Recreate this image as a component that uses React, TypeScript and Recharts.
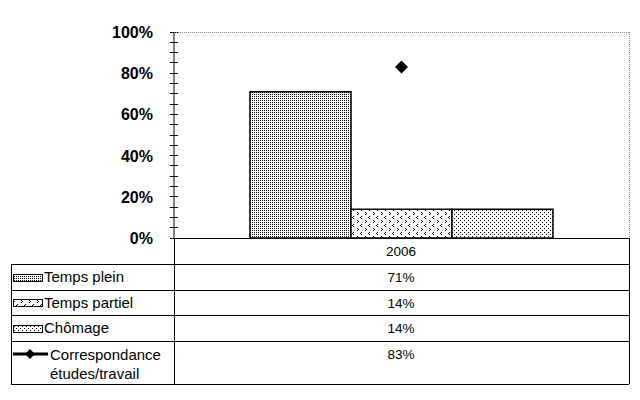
import React from 'react';
import { ComposedChart, Bar, Line, XAxis, YAxis } from 'recharts';

const years = ['2006'];
const tempsPlein = [71];
const tempsPartiel = [14];
const chomage = [14];
const correspondance = [83];
const yTicks = [0, 5, 10, 15, 20, 25, 30, 35, 40, 45, 50, 55, 60, 65, 70, 75, 80, 85, 90, 95, 100];
const majorTicks = [0, 20, 40, 60, 80, 100];
const seriesNames = ['Temps plein', 'Temps partiel', 'Chômage', 'Correspondance études/travail'];
const seriesValues = [tempsPlein, tempsPartiel, chomage, correspondance];

const data = years.map((year, i) => ({
    year,
    plein: tempsPlein[i],
    partiel: tempsPartiel[i],
    chomage: chomage[i],
    corr: correspondance[i],
}));

const FONT = '"Liberation Sans", Arial, sans-serif';

const YTick = (props: any) => {
    const { x, y, payload } = props;
    const major = majorTicks.includes(payload.value);
    return (
        <g>
            <line x1={x - 4} x2={x + 4} y1={y} y2={y} stroke="#000" strokeWidth={1} shapeRendering="crispEdges" />
            {major && (
                <text x={x - 21} y={y + 6} textAnchor="end" fontFamily={FONT} fontWeight="bold" fontSize={16} fill="#000">
                    {payload.value}%
                </text>
            )}
        </g>
    );
};

const Diamond = (props: any) => {
    const { cx, cy } = props;
    if (cx == null || cy == null) return null;
    const r = 6.5;
    return <path d={`M${cx},${cy - r} L${cx + r},${cy} L${cx},${cy + r} L${cx - r},${cy} Z`} fill="#000" />;
};

const Patterns = () => (
    <defs>
        <pattern id="patPlein" width={2} height={2} patternUnits="userSpaceOnUse">
            <rect width={2} height={2} fill="#fff" />
            <rect x={0} y={0} width={1} height={1} fill="#000" />
        </pattern>
        <pattern id="patPartiel" width={8} height={8} patternUnits="userSpaceOnUse">
            <rect width={8} height={8} fill="#fff" />
            <rect x={1} y={0} width={1} height={1} fill="#000" />
            <rect x={0} y={1} width={1} height={1} fill="#000" />
            <rect x={1} y={2} width={1} height={1} fill="#000" />
            <rect x={5} y={4} width={1} height={1} fill="#000" />
            <rect x={6} y={5} width={1} height={1} fill="#000" />
            <rect x={5} y={6} width={1} height={1} fill="#000" />
        </pattern>
        <pattern id="patChomage" width={4} height={4} patternUnits="userSpaceOnUse">
            <rect width={4} height={4} fill="#fff" />
            <rect x={0} y={0} width={1} height={1} fill="#000" />
            <rect x={2} y={2} width={1} height={1} fill="#000" />
        </pattern>
    </defs>
);

const swatchFills = ['url(#patPlein)', 'url(#patPartiel)', 'url(#patChomage)'];

const DataTable = () => {
    const left = 11;
    const split = 174;
    const right = 629;
    const rows = [238, 264, 290, 315, 341, 384];
    return (
        <svg
            width={640}
            height={400}
            style={{ position: 'absolute', left: 0, top: 0, pointerEvents: 'none' }}
        >
            <Patterns />
            <g stroke="#000" strokeWidth={1} shapeRendering="crispEdges">
                <line x1={split} x2={right} y1={rows[0]} y2={rows[0]} />
                {rows.slice(1).map((y) => (
                    <line key={y} x1={left} x2={right} y1={y} y2={y} />
                ))}
                <line x1={left} x2={left} y1={rows[1]} y2={rows[5]} />
                <line x1={split} x2={split} y1={rows[0]} y2={rows[5]} />
                <line x1={right} x2={right} y1={rows[0]} y2={rows[5]} />
            </g>
            <g stroke="#888" strokeWidth={1} strokeDasharray="1 1" shapeRendering="crispEdges">
                <line x1={split} x2={right} y1={32} y2={32} />
                <line x1={right} x2={right} y1={32} y2={rows[0]} />
            </g>
            <text x={401} y={256} textAnchor="middle" fontFamily={FONT} fontSize={13.5} fill="#000">
                {years[0]}
            </text>
            {seriesNames.map((name, i) => {
                const top = rows[i + 1];
                const bottom = rows[i + 2];
                const mid = (top + bottom) / 2;
                const isLine = i === 3;
                return (
                    <g key={name}>
                        {!isLine ? (
                            <rect x={13} y={mid - 3} width={29} height={7} fill={swatchFills[i]} stroke="#000" strokeWidth={1} shapeRendering="crispEdges" />
                        ) : (
                            <g>
                                <line x1={13} x2={48} y1={354} y2={354} stroke="#000" strokeWidth={3} />
                                <path d="M30,349 L35,354 L30,359 L25,354 Z" fill="#000" />
                            </g>
                        )}
                        {!isLine ? (
                            <text x={44} y={mid + 5} fontFamily={FONT} fontSize={15} fill="#000">
                                {name}
                            </text>
                        ) : (
                            <text fontFamily={FONT} fontSize={15} fill="#000">
                                <tspan x={50} y={360}>Correspondance</tspan>
                                <tspan x={50} y={379}>études/travail</tspan>
                            </text>
                        )}
                        <text x={401} y={isLine ? 359 : mid + 5} textAnchor="middle" fontFamily={FONT} fontSize={13.5} fill="#000">
                            {seriesValues[i][0]}%
                        </text>
                    </g>
                );
            })}
        </svg>
    );
};

export default function App() {
    return (
        <div style={{ position: 'absolute', left: 0, top: 0, width: 640, height: 400, background: '#fff' }}>
            <ComposedChart
                width={640}
                height={400}
                data={data}
                margin={{ top: 32, right: 11, bottom: 162, left: 0 }}
                barCategoryGap="16.7%"
                barGap={0}
            >
                <Patterns />
                <XAxis dataKey="year" tick={false} tickLine={false} axisLine={{ stroke: '#000' }} height={0} />
                <YAxis
                    width={174}
                    domain={[0, 100]}
                    ticks={yTicks}
                    interval={0}
                    tickSize={0}
                    tickMargin={0}
                    tickLine={false}
                    axisLine={{ stroke: '#000' }}
                    tick={<YTick />}
                />
                <Bar dataKey="plein" fill="url(#patPlein)" stroke="#000" strokeWidth={1.5} isAnimationActive={false} />
                <Bar dataKey="partiel" fill="url(#patPartiel)" stroke="#000" strokeWidth={1.5} isAnimationActive={false} />
                <Bar dataKey="chomage" fill="url(#patChomage)" stroke="#000" strokeWidth={1.5} isAnimationActive={false} />
                <Line dataKey="corr" stroke="none" dot={<Diamond />} activeDot={false} isAnimationActive={false} />
            </ComposedChart>
            <DataTable />
        </div>
    );
}
